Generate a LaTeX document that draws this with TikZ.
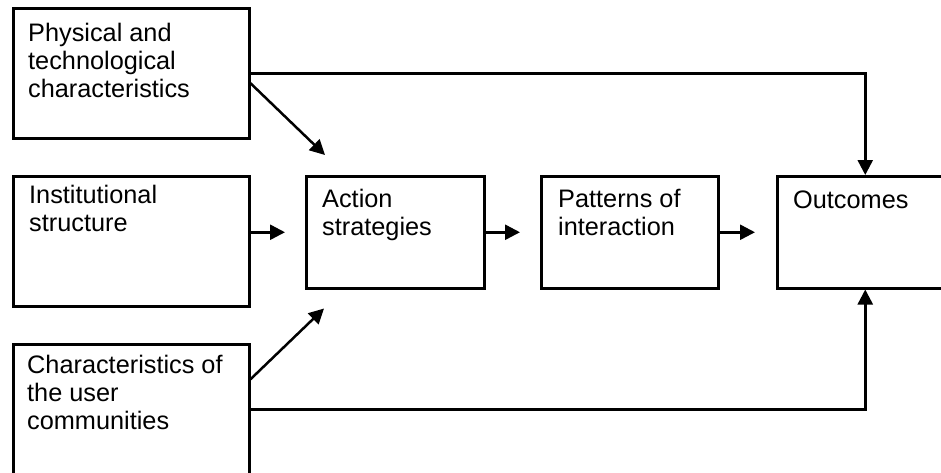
\documentclass[tikz,border=0pt]{standalone}
\usepackage{fontspec}
\setmainfont{Liberation Sans}
\usetikzlibrary{arrows.meta,calc}
\newcommand{\boxtext}[1]{\parbox[t]{230pt}{\fontsize{25.3}{28.4}\selectfont\raggedright #1}}
\begin{document}
\begin{tikzpicture}[x=1pt,y=1pt,
  box/.style={draw, line width=2.5pt, anchor=north west, inner sep=0pt},
  txt/.style={anchor=base west, inner sep=0pt},
  arr/.style={line width=2.5pt, -{Triangle[length=15pt,width=15pt]}},
  con/.style={line width=2.5pt}]
\clip (0,0) rectangle (941,-472);
\fill[white] (0,0) rectangle (941,-472);
% boxes
\node[box, minimum width=236pt, minimum height=130pt] (phys) at (12,-7) {};
\node[box, minimum width=236pt, minimum height=130pt] (inst) at (12,-175) {};
\node[box, minimum width=236pt, minimum height=130pt] (comm) at (12,-343) {};
\node[box, minimum width=178pt, minimum height=112pt] (act) at (305,-175) {};
\node[box, minimum width=177pt, minimum height=112pt] (pat) at (540,-175) {};
\node[box, minimum width=176pt, minimum height=112pt] (out) at (776,-175) {};
% texts
\node[txt] (physT) at ($(phys.north west)+(16,-34)$) {\boxtext{Physical and\\technological\\characteristics}};
\node[txt] (instT) at ($(inst.north west)+(17,-28)$) {\boxtext{Institutional\\structure}};
\node[txt] (commT) at ($(comm.north west)+(15,-30)$) {\boxtext{Characteristics of\\the user\\communities}};
\node[txt] (actT) at ($(act.north west)+(17,-32)$) {\boxtext{Action\\strategies}};
\node[txt] (patT) at ($(pat.north west)+(18,-32)$) {\boxtext{Patterns of\\interaction}};
\node[txt] (outT) at ($(out.north west)+(17,-33)$) {\boxtext{Outcomes}};
% connectors
\coordinate (tipInst) at ($(act.west)+(-20,0)$);
\coordinate (tipAct) at ($(pat.west)+(-20,0)$);
\coordinate (tipPat) at ($(out.west)+(-21,0)$);
\coordinate (tipPhys) at ($(act.north west)+(20,20)$);
\coordinate (tipComm) at ($(act.south west)+(19,-19)$);
\draw[arr] (inst.east |- act.west) -- (tipInst);
\draw[arr] (act.east) -- (tipAct);
\draw[arr] (pat.east) -- (tipPat);
\draw[arr] (phys.east) -| (out.north);
\draw[arr] (comm.east) -| (out.south);
\draw[arr] ($(phys.east)+(0,-10)$) -- (tipPhys);
\draw[arr] ($(comm.east)+(0,30)$) -- (tipComm);
\end{tikzpicture}
\end{document}
